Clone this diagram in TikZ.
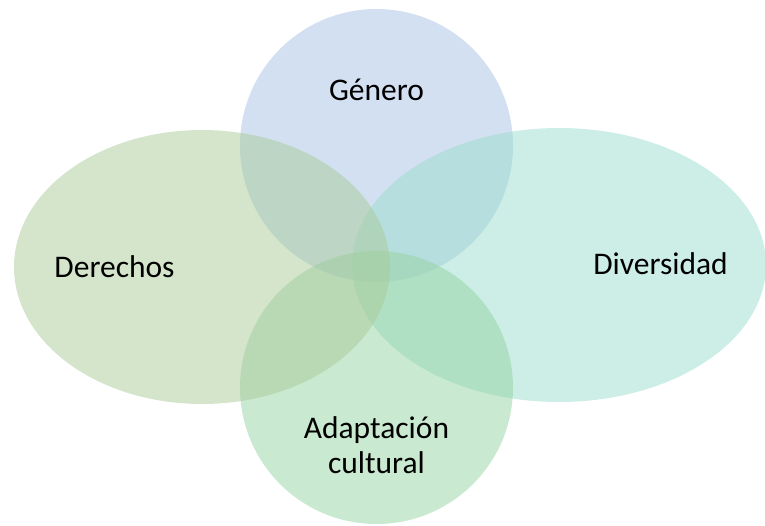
\documentclass[tikz,border=0pt]{standalone}
\usepackage{fontspec}
\setmainfont{Carlito}
\definecolor{cTop}{RGB}{167,193,227}
\definecolor{cLeft}{RGB}{169,203,153}
\definecolor{cRight}{RGB}{155,221,205}
\definecolor{cBot}{RGB}{147,211,161}
\tikzset{
  venn/.style={fill opacity=0.5, draw=none},
  lbl/.style={anchor=base, font=\fontsize{31.5}{35}\selectfont, text=black, inner sep=0pt, align=center}
}
\begin{document}
\begin{tikzpicture}[x=1pt,y=-1pt]
\useasboundingbox (0,0) rectangle (765,525);
\fill[venn, cTop] (376.5,145.5) circle [radius=136.5];
\fill[venn, cRight] (559,265) ellipse [x radius=207, y radius=137];
\fill[venn, cBot] (376.5,387.5) circle [radius=136.5];
\fill[venn, cLeft] (202,267) ellipse [x radius=188, y radius=137];
\node[lbl] (genero) at (376.5,100) {Género};
\node[lbl] (derechos) at (114.5,277) {Derechos};
\node[lbl] (diversidad) at (660.5,274) {Diversidad};
\node[lbl] (adaptacion) at (376.5,473) {Adaptación\\cultural};
\end{tikzpicture}
\end{document}
